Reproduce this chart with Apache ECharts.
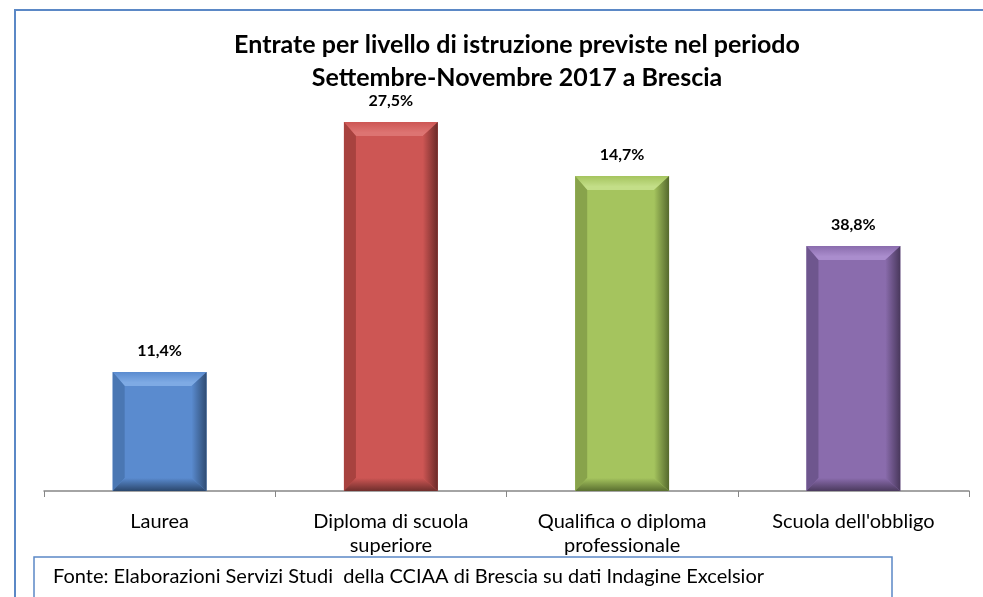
<!DOCTYPE html>
<html>
<head>
<meta charset="utf-8">
<script src="https://cdn.jsdelivr.net/npm/echarts@6/dist/echarts.min.js"></script>
<style>
  html, body { margin: 0; padding: 0; background: #fff; }
  #chart { width: 983px; height: 597px; }
</style>
</head>
<body>
<div id="chart"></div>
<script>
var categories = ["Laurea", "Diploma di scuola\nsuperiore", "Qualifica o diploma\nprofessionale", "Scuola dell'obbligo"];
// bar heights as drawn in the picture (arbitrary units, axis hidden)
var barValues = [119, 369, 315, 245];
// percentage labels printed above the bars
var barLabels = ["11,4%", "27,5%", "14,7%", "38,8%"];

// face, top bevel, left bevel, right bevel, bottom bevel
var palette = [
  ["#5a8bcf", "#7eaae4", "#4a77b3", "#2f4c73", "#2b476d"],
  ["#cd5654", "#dd7472", "#a8423f", "#6b2a28", "#6f2e2c"],
  ["#a5c45e", "#c3de88", "#88a34b", "#55692d", "#5a6f30"],
  ["#8a6cad", "#aa8dcd", "#6e568e", "#49385c", "#4b3a5e"]
];

var FONT = "Lato, 'Open Sans', sans-serif";

var chart = echarts.init(document.getElementById("chart"));

function renderItem(params, api) {
  var i = params.dataIndex;
  var base = api.coord([api.value(0), 0]);
  var top = api.coord([api.value(0), api.value(1)]);
  var w = api.size([1, 0])[0] * 0.406;
  var x0 = base[0] - w / 2, x1 = base[0] + w / 2;
  var y0 = top[1], y1 = base[1];
  var bl = 12, br = 15, bt = 14, bb = 13;
  var c = palette[i];
  function poly(pts, fill) {
    return { type: "polygon", shape: { points: pts }, style: { fill: fill } };
  }
  return {
    type: "group",
    children: [
      { type: "rect", shape: { x: x0, y: y0, width: w, height: y1 - y0 }, style: { fill: c[0] } },
      poly([[x0, y0], [x1, y0], [x1 - br, y0 + bt], [x0 + bl, y0 + bt]],
        new echarts.graphic.LinearGradient(0, 0, 0, 1, [
          { offset: 0, color: c[0] }, { offset: 0.75, color: c[1] }, { offset: 1, color: c[1] }
        ])),
      poly([[x0, y0], [x0 + bl, y0 + bt], [x0 + bl, y1 - bb], [x0, y1]], c[2]),
      poly([[x1, y0], [x1 - br, y0 + bt], [x1 - br, y1 - bb], [x1, y1]],
        new echarts.graphic.LinearGradient(0, 0, 1, 0, [
          { offset: 0, color: c[0] }, { offset: 1, color: c[3] }
        ])),
      poly([[x0, y1], [x0 + bl, y1 - bb], [x1 - br, y1 - bb], [x1, y1]],
        new echarts.graphic.LinearGradient(0, 0, 0, 1, [
          { offset: 0, color: c[0] }, { offset: 1, color: c[4] }
        ])),
      {
        type: "text",
        style: {
          text: barLabels[i], x: base[0], y: y0 - 13,
          align: "center", verticalAlign: "bottom",
          font: "bold 16px " + FONT, fill: "#000"
        }
      }
    ]
  };
}

var option = {
  animation: false,
  title: {
    text: "Entrate per livello di istruzione previste nel periodo\nSettembre-Novembre 2017 a Brescia",
    left: 512, top: 23, textAlign: "center",
    textStyle: { fontFamily: FONT, fontWeight: "bold", fontSize: 25, lineHeight: 33, color: "#000" }
  },
  grid: { left: 44, right: 14, top: 91, bottom: 106 },
  xAxis: {
    type: "category",
    data: categories,
    axisLine: { lineStyle: { color: "#868686", width: 1.5 } },
    axisTick: { show: true, length: 6, lineStyle: { color: "#868686" } },
    axisLabel: { color: "#000", fontSize: 20, lineHeight: 24, margin: 19, fontFamily: FONT }
  },
  yAxis: { type: "value", min: 0, max: 400, show: false },
  series: [{
    type: "custom",
    renderItem: renderItem,
    encode: { x: 0, y: 1 },
    data: barValues.map(function (v, i) { return [i, v]; })
  }],
  graphic: [
    { type: "rect", shape: { x: 15, y: 10, width: 1000, height: 620 },
      style: { fill: null, stroke: "#5b88c6", lineWidth: 2 } },
    { type: "rect", shape: { x: 34, y: 557, width: 858, height: 60 },
      style: { fill: "#fff", stroke: "#5b88c6", lineWidth: 1.5 } },
    { type: "text", left: 53, top: 567,
      style: { text: "Fonte: Elaborazioni Servizi Studi  della CCIAA di Brescia su dati Indagine Excelsior",
        font: "20px " + FONT, fill: "#000" } }
  ]
};
chart.setOption(option);
</script>
</body>
</html>
